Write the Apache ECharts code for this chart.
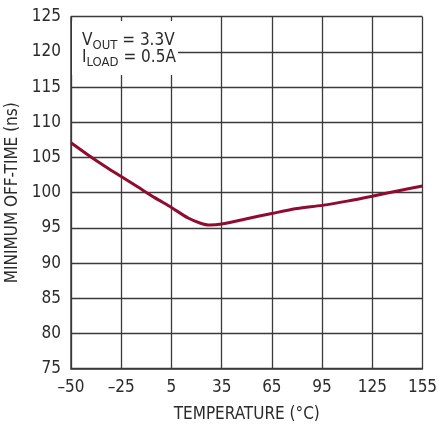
<!DOCTYPE html>
<html>
<head>
<meta charset="utf-8">
<script src="https://cdn.jsdelivr.net/npm/echarts@6/dist/echarts.min.js"></script>
<style>
html,body{margin:0;padding:0;background:#fff;}
#c{width:438px;height:424px;}
</style>
</head>
<body>
<div id="c"></div>
<script>
// Temperature (°C) and minimum off-time (ns)
const temperature = [-55, -45, -35, -25, -15, -5, 5, 15, 22, 28, 35, 50, 65, 80, 95, 110, 125, 140, 155];
const offTime     = [107.1, 105.4, 103.8, 102.3, 100.8, 99.3, 97.9, 96.4, 95.7, 95.4, 95.55, 96.3, 97.05, 97.75, 98.2, 98.8, 99.5, 100.25, 100.95];
const xTickLabels = {'-55': '–50', '-25': '–25', '5': '5', '35': '35', '65': '65', '95': '95', '125': '125', '155': '155'};
const yTicks = [75, 80, 85, 90, 95, 100, 105, 110, 115, 120, 125];

const FONT = "'Liberation Sans Narrow', 'DejaVu Sans Condensed', 'Liberation Sans', sans-serif";
const TXT = '#2b2b2b';
const GRID = '#3a3a3a';

const chart = echarts.init(document.getElementById('c'), null, {renderer: 'canvas'});
chart.setOption({
  animation: false,
  backgroundColor: '#ffffff',
  grid: {left: 71, right: 15.5, top: 16.7, bottom: 55.3, containLabel: false, outerBoundsMode: 'none'},
  xAxis: {
    type: 'value', min: -55, max: 155, interval: 30,
    name: 'TEMPERATURE (°C)', nameLocation: 'middle', nameGap: 37,
    nameTextStyle: {fontFamily: FONT, fontSize: 17, color: TXT},
    axisLine: {show: true, onZero: false, lineStyle: {color: GRID, width: 1.5}},
    axisTick: {show: false},
    axisLabel: {fontFamily: FONT, fontSize: 17, color: TXT, margin: 10,
      formatter: v => xTickLabels[String(v)] !== undefined ? xTickLabels[String(v)] : ''},
    splitLine: {show: true, lineStyle: {color: GRID, width: 1.3}}
  },
  yAxis: {
    type: 'value', min: yTicks[0], max: yTicks[yTicks.length - 1], interval: 5,
    name: 'MINIMUM OFF-TIME (ns)', nameLocation: 'middle', nameGap: 50,
    nameTextStyle: {fontFamily: FONT, fontSize: 17, color: TXT},
    axisLine: {show: true, onZero: false, lineStyle: {color: GRID, width: 1.5}},
    axisTick: {show: false},
    axisLabel: {fontFamily: FONT, fontSize: 17, color: TXT, margin: 10},
    splitLine: {show: true, lineStyle: {color: GRID, width: 1.3}}
  },
  series: [{
    type: 'line',
    data: temperature.map((t, i) => [t, offTime[i]]),
    smooth: 0.3,
    symbol: 'none',
    lineStyle: {color: '#8f0b30', width: 3},
    z: 5
  }],
  graphic: [
    {type: 'rect', shape: {x: 72, y: 21, width: 106, height: 54}, style: {fill: '#ffffff'}, z: 10},
    {type: 'text', x: 82, y: 30, z: 11, style: {
      text: '{m|V}{s|OUT}{m| = 3.3V}', fill: TXT, font: '17px ' + FONT,
      rich: {m: {fontSize: 17, fontFamily: FONT, fill: TXT, padding: [0,0,0,0]}, s: {fontSize: 13, fontFamily: FONT, fill: TXT, padding: [9,0,0,0]}}
    }},
    {type: 'text', x: 82, y: 47, z: 11, style: {
      text: '{m|I}{s|LOAD}{m| = 0.5A}', fill: TXT, font: '17px ' + FONT,
      rich: {m: {fontSize: 17, fontFamily: FONT, fill: TXT, padding: [0,0,0,0]}, s: {fontSize: 13, fontFamily: FONT, fill: TXT, padding: [9,0,0,0]}}
    }}
  ]
});
</script>
</body>
</html>
